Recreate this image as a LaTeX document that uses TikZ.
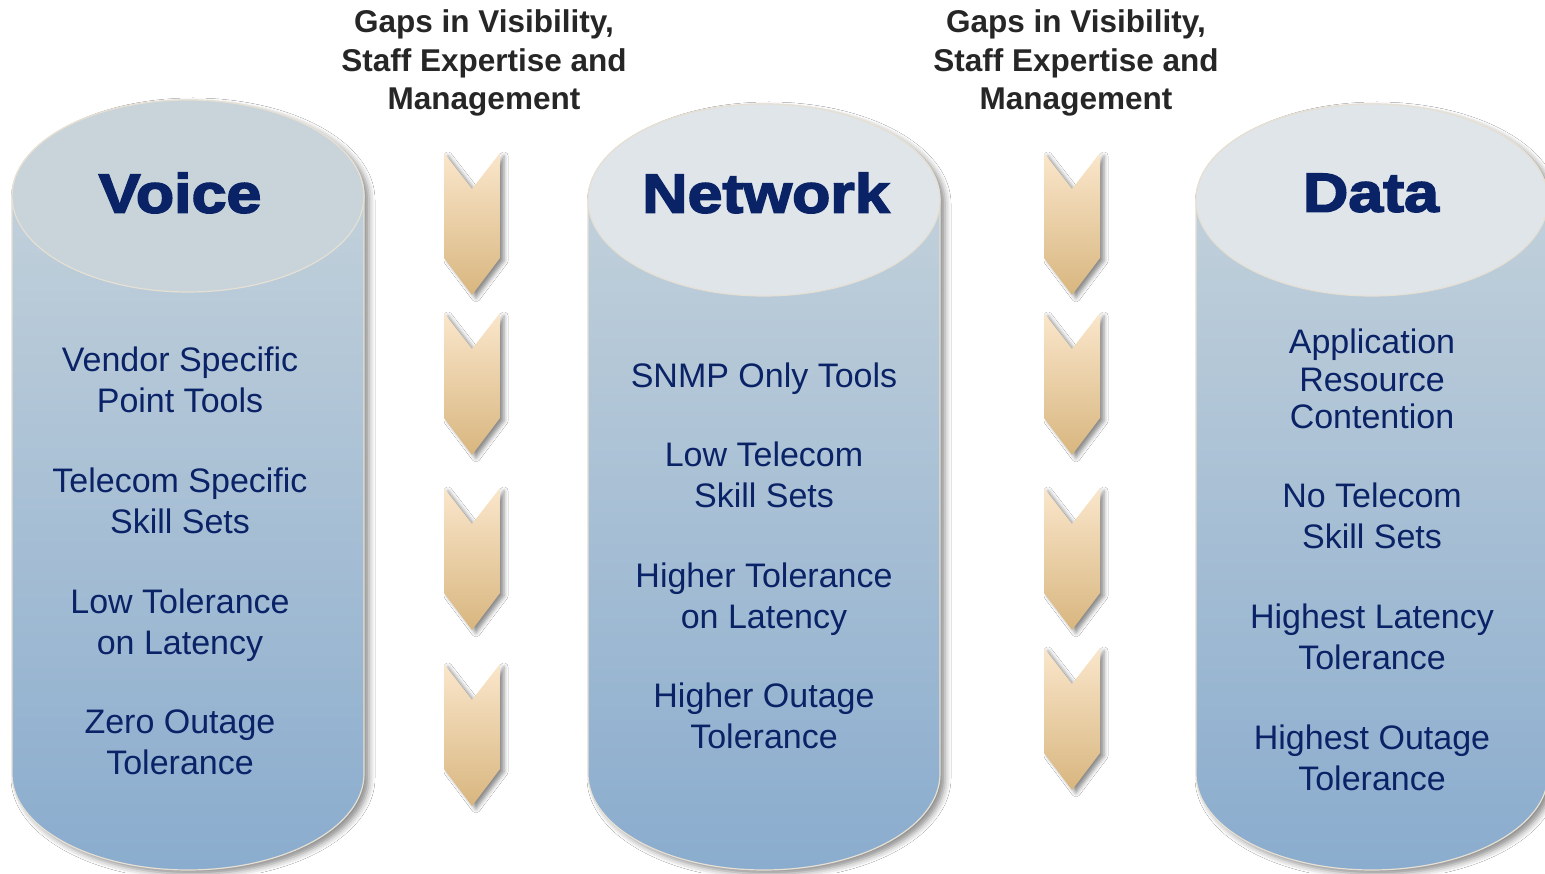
\documentclass[tikz,border=0pt]{standalone}
\usepackage{fontspec}
\setmainfont{Liberation Sans}
\newfontfamily\titlefont[FakeBold=3,FakeStretch=1.14]{Liberation Sans Bold}
\usetikzlibrary{positioning}
\usetikzlibrary{shadows.blur}
\definecolor{navy}{HTML}{0A2266}
\definecolor{headgray}{HTML}{262626}
\definecolor{cylTop}{HTML}{C9D5DC}
\definecolor{cylBot}{HTML}{8AACCE}
\definecolor{lidDark}{HTML}{C8D4DA}
\definecolor{lidLight}{HTML}{DFE5E9}
\definecolor{rim}{HTML}{E6E0D4}
\definecolor{chevTop}{HTML}{FAE6CB}
\definecolor{chevBot}{HTML}{D8B67F}

\begin{document}
\begin{tikzpicture}[x=1pt,y=1pt,
	body/.style={shading=axis, top color=cylTop, bottom color=cylBot, draw=rim, line width=1.2pt,
		blur shadow={shadow xshift=5pt, shadow yshift=-4pt, shadow blur radius=6pt, shadow opacity=45}},
	lid/.style={draw=rim, line width=1.2pt},
	gap/.style={shading=axis, top color=chevTop, bottom color=chevBot,
		blur shadow={shadow xshift=4pt, shadow yshift=-3pt, shadow blur radius=4pt, shadow opacity=45}},
	title/.style={text=navy, font=\titlefont\fontsize{55}{60}\selectfont},
	item/.style={text=navy, align=center, font=\fontsize{34}{41}\selectfont},
	head/.style={text=headgray, align=center, font=\bfseries\fontsize{31.5}{38.5}\selectfont}]
		\useasboundingbox (0,0) rectangle (1545,873);
		\fill[white] (0,0) rectangle (1545,873);
		\foreach \cx/\ty/\lidcol in {188/677/lidDark, 764/673/lidLight, 1372/673/lidLight} {
			\path[body] (\cx-176,\ty) -- (\cx-176,99)
				arc[start angle=180, end angle=360, x radius=176pt, y radius=96pt]
				-- (\cx+176,\ty)
				arc[start angle=0, end angle=180, x radius=176pt, y radius=96pt] -- cycle;
			\path[lid, fill=\lidcol] (\cx,\ty) ellipse [x radius=176pt, y radius=96pt];
		}
		\foreach \x/\y in {444/720, 444/560, 444/385, 444/209, 1044/720, 1044/560, 1044/385, 1044/225}
			\path[gap] (\x,\y) -- (\x+28,\y-36) -- (\x+56,\y) -- (\x+56,\y-105)
				-- (\x+28,\y-142) -- (\x,\y-105) -- cycle;
		\node (h1) [head] at (484,810) {Gaps in Visibility,\\Staff Expertise and\\Management};
		\node (h2) [head] at (1076,810) {Gaps in Visibility,\\Staff Expertise and\\Management};
		\node (voice) [title] at (180,680) {Voice};
		\node (v1) [item] at (180,493) {Vendor Specific\\Point Tools};
		\node (v2) [item] at (180,372) {Telecom Specific\\Skill Sets};
		\node (v3) [item] at (180,248) {Low Tolerance\\on Latency};
		\node (v4) [item] at (180,131) {Zero Outage\\Tolerance};
		\node (network) [title] at (766,680) {Network};
		\node (n1) [item] at (764,494) {SNMP Only Tools};
		\node (n2) [item] at (764,398) {Low Telecom\\Skill Sets};
		\node (n3) [item] at (764,274) {Higher Tolerance\\on Latency};
		\node (n4) [item] at (764,157) {Higher Outage\\Tolerance};
		\node (data) [title] at (1371,680) {Data};
		\node (d1) [item, font=\fontsize{34}{37.5}\selectfont] at (1372,494) {Application\\Resource\\Contention};
		\node (d2) [item] at (1372,357) {No Telecom\\Skill Sets};
		\node (d3) [item] at (1372,236) {Highest Latency\\Tolerance};
		\node (d4) [item] at (1372,115) {Highest Outage\\Tolerance};
\end{tikzpicture}
\end{document}
